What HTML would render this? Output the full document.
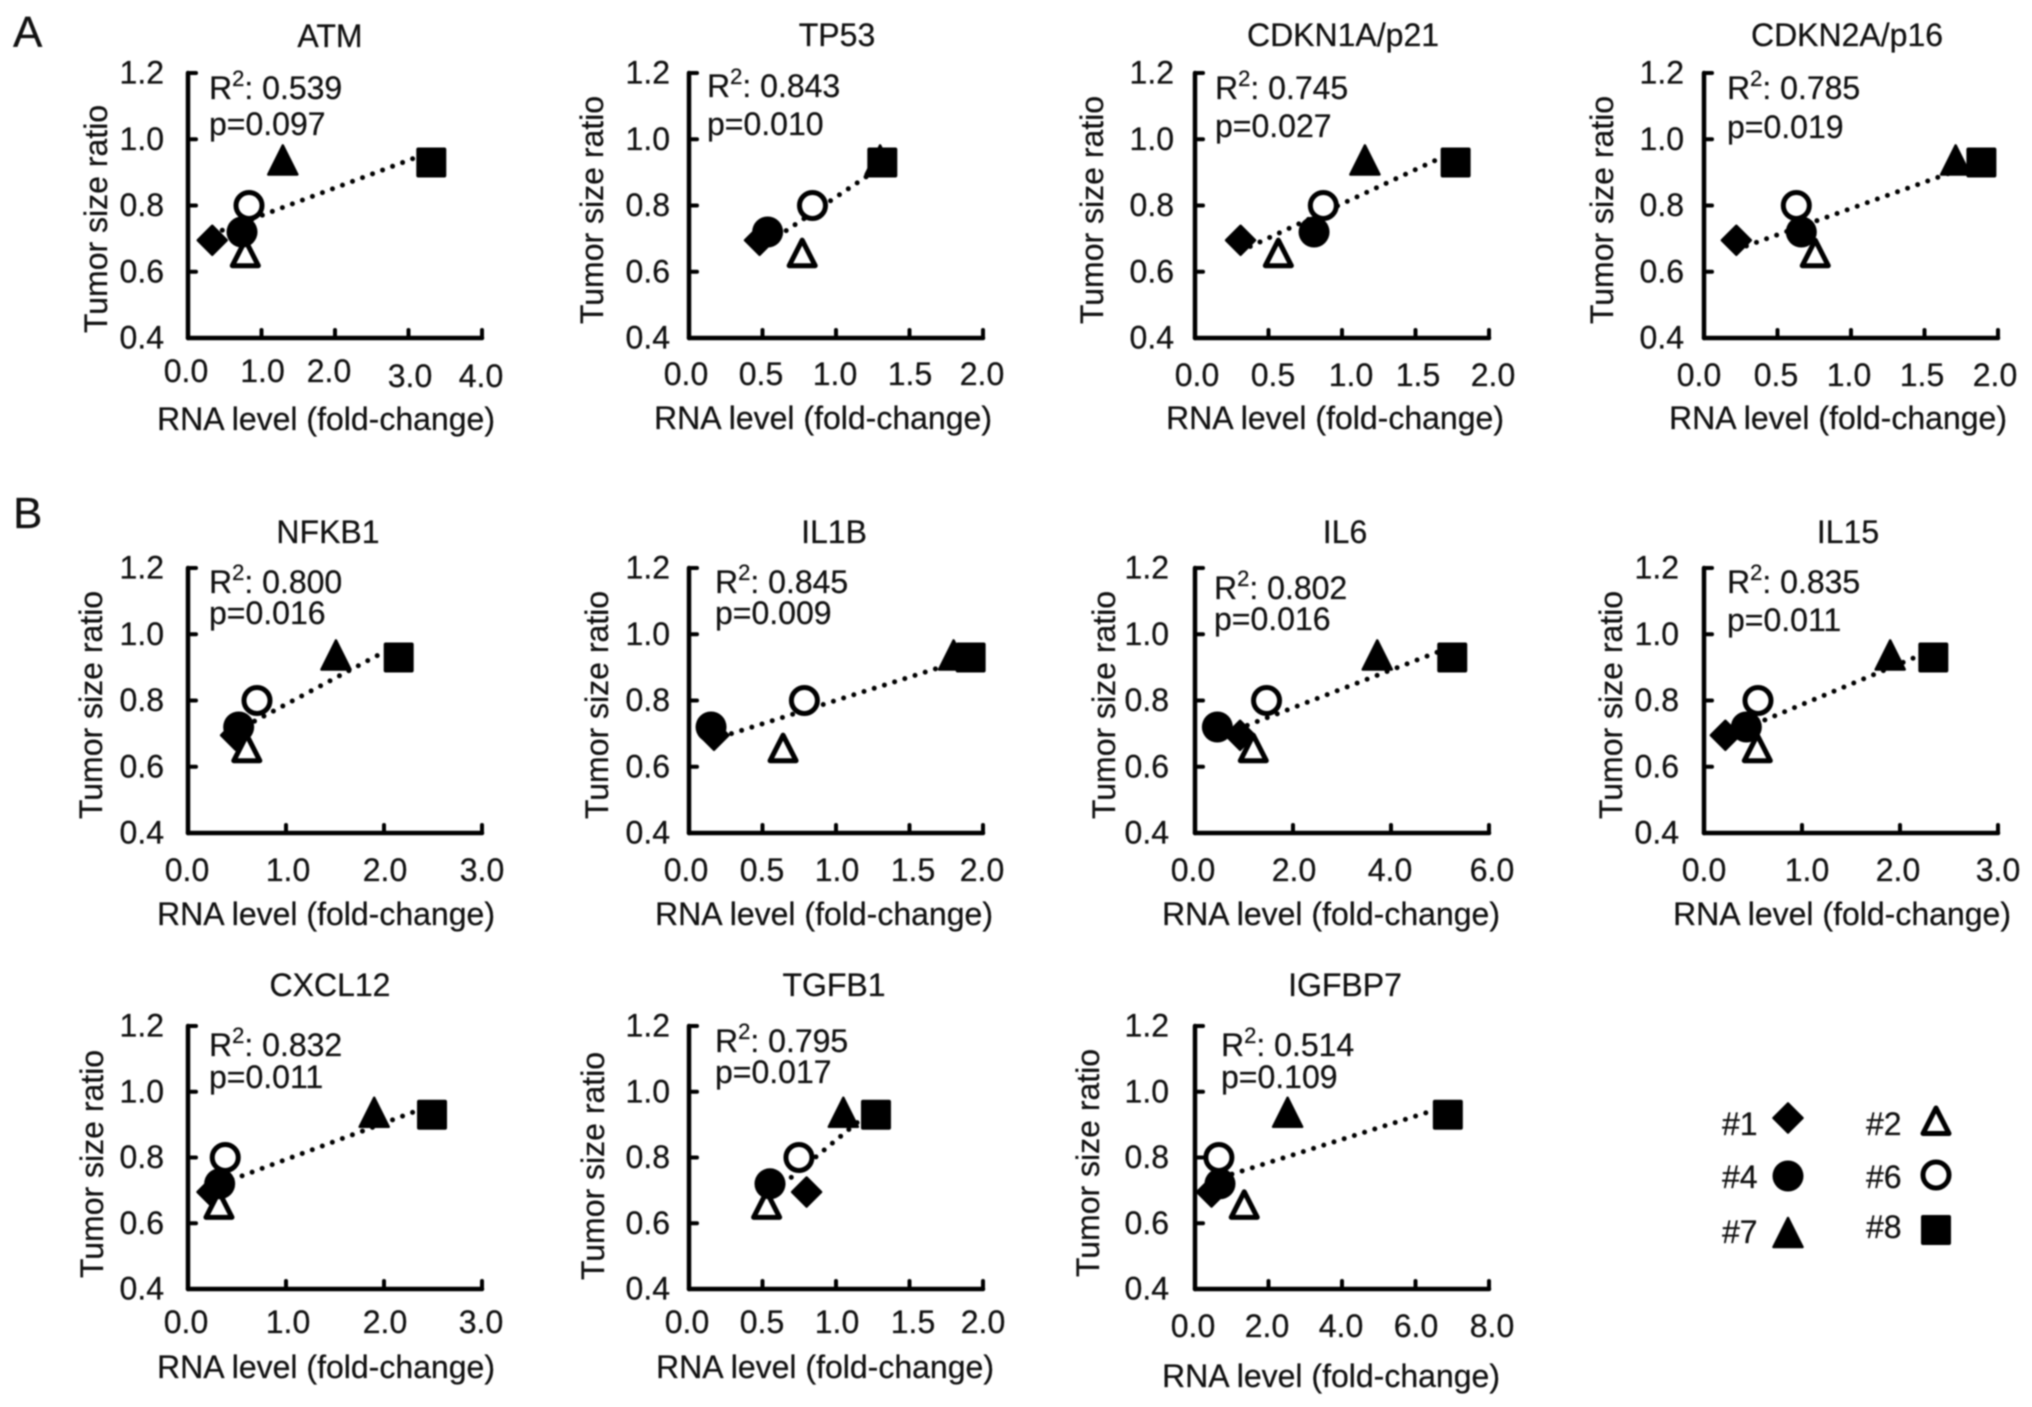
<!DOCTYPE html>
<html lang="en">
<head>
<meta charset="utf-8">
<title>Tumor size ratio vs RNA level</title>
<style>
html,body{margin:0;padding:0;background:#fff;}
body{width:2032px;height:1407px;overflow:hidden;}
svg{display:block;filter:blur(0.7px);}
text{font-family:"Liberation Sans",Arial,sans-serif;fill:#111;stroke:#111;stroke-width:0.25px;}
</style>
</head>
<body>
<svg id="figure" xmlns="http://www.w3.org/2000/svg" width="2032" height="1407" viewBox="0 0 2032 1407"></svg>
<script>
// ---------- chart data ----------
const geneNames = ['ATM','TP53','CDKN1A/p21','CDKN2A/p16','NFKB1','IL1B','IL6','IL15','CXCL12','TGFB1','IGFBP7'];
const xAxisMax = [4,2,2,2,3,2,6,3,3,2,8];
const xTickValues = [
  [0,1,2,3,4],[0,0.5,1,1.5,2],[0,0.5,1,1.5,2],[0,0.5,1,1.5,2],
  [0,1,2,3],[0,0.5,1,1.5,2],[0,2,4,6],[0,1,2,3],
  [0,1,2,3],[0,0.5,1,1.5,2],[0,2,4,6,8]
];
const xTickLabels = [
  ['0.0','1.0','2.0','3.0','4.0'],['0.0','0.5','1.0','1.5','2.0'],['0.0','0.5','1.0','1.5','2.0'],['0.0','0.5','1.0','1.5','2.0'],
  ['0.0','1.0','2.0','3.0'],['0.0','0.5','1.0','1.5','2.0'],['0.0','2.0','4.0','6.0'],['0.0','1.0','2.0','3.0'],
  ['0.0','1.0','2.0','3.0'],['0.0','0.5','1.0','1.5','2.0'],['0.0','2.0','4.0','6.0','8.0']
];
const yTickValues = [0.4,0.6,0.8,1.0,1.2];
const yTickLabels = ['0.4','0.6','0.8','1.0','1.2'];
const r2Values = ['0.539','0.843','0.745','0.785','0.800','0.845','0.802','0.835','0.832','0.795','0.514'];
const pValues = ['0.097','0.010','0.027','0.019','0.016','0.009','0.016','0.011','0.011','0.017','0.109'];
// Tumor size ratio of each sample (#1, #2, #4, #6, #7, #8)
const sampleIds = ['#1','#2','#4','#6','#7','#8'];
const tumorRatio = [0.695,0.65,0.72,0.80,0.93,0.93];
// RNA level per gene, one array per sample
const rnaSample1 = [0.33,0.48,0.31,0.22,0.486,0.17,0.92,0.218,0.245,0.80,0.45];
const rnaSample2 = [0.78,0.77,0.567,0.757,0.60,0.64,1.19,0.544,0.316,0.528,1.34];
const rnaSample4 = [0.735,0.535,0.81,0.662,0.517,0.15,0.456,0.432,0.323,0.551,0.68];
const rnaSample6 = [0.83,0.84,0.873,0.628,0.704,0.785,1.46,0.551,0.38,0.748,0.65];
const rnaSample7 = [1.29,1.30,1.156,1.712,1.51,1.80,3.72,1.90,1.90,1.05,2.52];
const rnaSample8 = [3.31,1.315,1.773,1.887,2.15,1.916,5.25,2.34,2.49,1.272,6.88];

// ---------- layout (pixels, separate from data) ----------
const layout = [
 {l:188,t:73,b:338,title:[330,47],yl:[107,219],yr:24,xb:326,xlb:430,r:[209,99,135],lx:[186,262.5,329,410,481],lb:[382,382,382,387,387]},
 {l:689,t:73,b:338,title:[837,46],yl:[603,210],yr:19,xb:823,xlb:429,r:[707,97,135],lx:[686,761,835,910,982],lb:[385,385,385,385,385]},
 {l:1195,t:73,b:338,title:[1343,46],yl:[1103,210],yr:21,xb:1335,xlb:429,r:[1215,99,137],lx:[1197,1273,1351,1418,1493],lb:[386,386,386,386,386]},
 {l:1704,t:73,b:338,title:[1847,46],yl:[1613,210],yr:20,xb:1838,xlb:429,r:[1727,99,138],lx:[1699,1776,1849,1922,1995],lb:[386,386,386,386,386]},
 {l:188,t:568,b:833,title:[328,543],yl:[102,705],yr:24,xb:326,xlb:925,r:[209,593,624],lx:[187,288,385,482],lb:[881,881,881,881]},
 {l:689,t:568,b:833,title:[834,543],yl:[608,705],yr:19,xb:824,xlb:925,r:[715,593,624],lx:[686,762,837,913,982],lb:[881,881,881,881,881]},
 {l:1195,t:568,b:833,title:[1345,543],yl:[1115,705],yr:26,xb:1331,xlb:925,r:[1214,599,630],lx:[1193,1294,1390,1492],lb:[881,881,881,881]},
 {l:1704,t:568,b:833,title:[1848,543],yl:[1622,705],yr:25,xb:1842,xlb:925,r:[1727,593,631],lx:[1704,1807,1898,1998],lb:[881,881,881,881]},
 {l:188,t:1026,b:1289,title:[330,996],yl:[103,1164],yr:24,xb:326,xlb:1378,r:[209,1056,1088],lx:[186,288,385,481],lb:[1333,1333,1333,1333]},
 {l:689,t:1026,b:1289,title:[834,996],yl:[604,1166],yr:19,xb:825,xlb:1378,r:[715,1052,1083],lx:[687,762,837,913,983],lb:[1333,1333,1333,1333,1333]},
 {l:1195,t:1026,b:1289,title:[1345,996],yl:[1099,1163],yr:26,xb:1331,xlb:1387,r:[1221,1056,1088],lx:[1193,1267,1341,1416,1492],lb:[1337,1337,1337,1337,1337]}
];
const AXIS_WIDTH = 294;
const NS = 'http://www.w3.org/2000/svg';
const svg = document.getElementById('figure');

function el(tag, attrs, parent) {
  const e = document.createElementNS(NS, tag);
  for (const k in attrs) e.setAttribute(k, attrs[k]);
  parent.appendChild(e);
  return e;
}
function txt(str, x, y, size, anchor, parent) {
  const e = el('text', {x:x, y:y, 'font-size':size, 'text-anchor':anchor}, parent);
  e.textContent = str;
  return e;
}
function drawMarker(kind, cx, cy, parent) {
  let m;
  if (kind === 0) {
    m = el('polygon', {points:[cx,cy-14.5,cx+14.5,cy,cx,cy+14.5,cx-14.5,cy].join(' '), fill:'#000', stroke:'#000', 'stroke-width':2.5, 'stroke-linejoin':'round'}, parent);
  } else if (kind === 1) {
    m = el('polygon', {points:[cx,cy-15,cx+13,cy+10.5,cx-13,cy+10.5].join(' '), fill:'#fff', stroke:'#000', 'stroke-width':5, 'stroke-linejoin':'round'}, parent);
  } else if (kind === 2) {
    m = el('circle', {cx:cx, cy:cy, r:15.5, fill:'#000'}, parent);
  } else if (kind === 3) {
    m = el('circle', {cx:cx, cy:cy, r:13, fill:'#fff', stroke:'#000', 'stroke-width':5}, parent);
  } else if (kind === 4) {
    m = el('polygon', {points:[cx,cy-17,cx+14.5,cy+12,cx-14.5,cy+12].join(' '), fill:'#000', stroke:'#000', 'stroke-width':2.5, 'stroke-linejoin':'round'}, parent);
  } else {
    m = el('rect', {x:cx-14.5, y:cy-14.5, width:29, height:29, rx:1.5, fill:'#000', stroke:'#000', 'stroke-width':1}, parent);
  }
  return m;
}
function fitLine(xs, ys) {
  const n = xs.length;
  const mx = xs.reduce((a,b)=>a+b,0)/n;
  const my = ys.reduce((a,b)=>a+b,0)/n;
  let sxy = 0, sxx = 0;
  for (let i = 0; i < n; i++) { sxy += (xs[i]-mx)*(ys[i]-my); sxx += (xs[i]-mx)*(xs[i]-mx); }
  const slope = sxy/sxx;
  return v => my + slope*(v-mx);
}

// panel letters
const letterA = txt('A', 13, 47, 44, 'start', svg);


const letterB = txt('B', 13, 528, 44, 'start', svg);



// panels
geneNames.forEach((gene, p) => {
  const L = layout[p];
  const scaleX = v => L.l + v / xAxisMax[p] * AXIS_WIDTH;
  const scaleY = v => L.b - (v - 0.4) / 0.8 * (L.b - L.t);
  const slug = gene.toLowerCase().replace(/[^a-z0-9]+/g, '-');

  const g = el('g', {}, svg);
  
  

  const title = txt(gene, L.title[0], L.title[1], 32, 'middle', g);
  
  

  // axes
  const yAxis = el('line', {x1:L.l, y1:L.t, x2:L.l, y2:L.b, stroke:'#000', 'stroke-width':4.5, 'stroke-linecap':'round'}, g);
  
  
  const xAxis = el('line', {x1:L.l, y1:L.b, x2:L.l + AXIS_WIDTH, y2:L.b, stroke:'#000', 'stroke-width':4.5, 'stroke-linecap':'round'}, g);
  
  

  yTickValues.forEach((v, i) => {
    const y = scaleY(v);
    if (i > 0) {
      const tick = el('line', {x1:L.l, y1:y, x2:L.l + 8, y2:y, stroke:'#000', 'stroke-width':4, 'stroke-linecap':'round'}, g);
      
      
    }
    const lab = txt(yTickLabels[i], L.l - L.yr, y + 10.5, 32, 'end', g);
    
    
  });

  xTickValues[p].forEach((v, i) => {
    const x = scaleX(v);
    if (i > 0) {
      const tick = el('line', {x1:x, y1:L.b, x2:x, y2:L.b - 8, stroke:'#000', 'stroke-width':4, 'stroke-linecap':'round'}, g);
      
      
    }
    const lab = txt(xTickLabels[p][i], L.lx[i], L.lb[i], 32, 'middle', g);
    
    
  });

  const yTitle = txt('Tumor size ratio', L.yl[0], L.yl[1], 32, 'middle', g);
  yTitle.setAttribute('transform', 'rotate(-90 ' + L.yl[0] + ' ' + L.yl[1] + ')');
  
  

  const xTitle = txt('RNA level (fold-change)', L.xb, L.xlb, 32, 'middle', g);
  
  

  // annotations
  const r2 = el('text', {x:L.r[0], y:L.r[1], 'font-size':32}, g);
  
  
  r2.appendChild(document.createTextNode('R'));
  const sup = el('tspan', {dy:-13, 'font-size':22}, r2);
  sup.textContent = '2';
  const rest = el('tspan', {dy:13}, r2);
  rest.textContent = ': ' + r2Values[p];

  const pv = txt('p=' + pValues[p], L.r[0], L.r[2], 32, 'start', g);
  
  

  // series
  const xs = [rnaSample1[p], rnaSample2[p], rnaSample4[p], rnaSample6[p], rnaSample7[p], rnaSample8[p]];
  const fit = fitLine(xs, tumorRatio);
  const xLo = Math.min.apply(null, xs);
  const xHi = Math.max.apply(null, xs);
  const trend = el('line', {x1:scaleX(xLo), y1:scaleY(fit(xLo)), x2:scaleX(xHi), y2:scaleY(fit(xHi)), stroke:'#000', 'stroke-width':5, 'stroke-linecap':'round', 'stroke-dasharray':'0 10.7'}, g);
  
  

  [0,1,3,2,4,5].forEach(k => {
    const m = drawMarker(k, scaleX(xs[k]), scaleY(tumorRatio[k]), g);
    
    
  });
});

// legend
const legendCols = [[1722,1788],[1866,1936],[1722,1788],[1866,1936],[1722,1788],[1866,1936]];
const legendTextY = [1135,1135,1188,1188,1243,1238];
const legendMarkY = [1118,1123,1176,1175,1235,1230];
const legend = el('g', {}, svg);


sampleIds.forEach((id, k) => {
  const lab = txt(id, legendCols[k][0], legendTextY[k], 32, 'start', legend);
  
  
  const m = drawMarker(k, legendCols[k][1], legendMarkY[k], legend);
  
  
});
</script>
</body>
</html>
